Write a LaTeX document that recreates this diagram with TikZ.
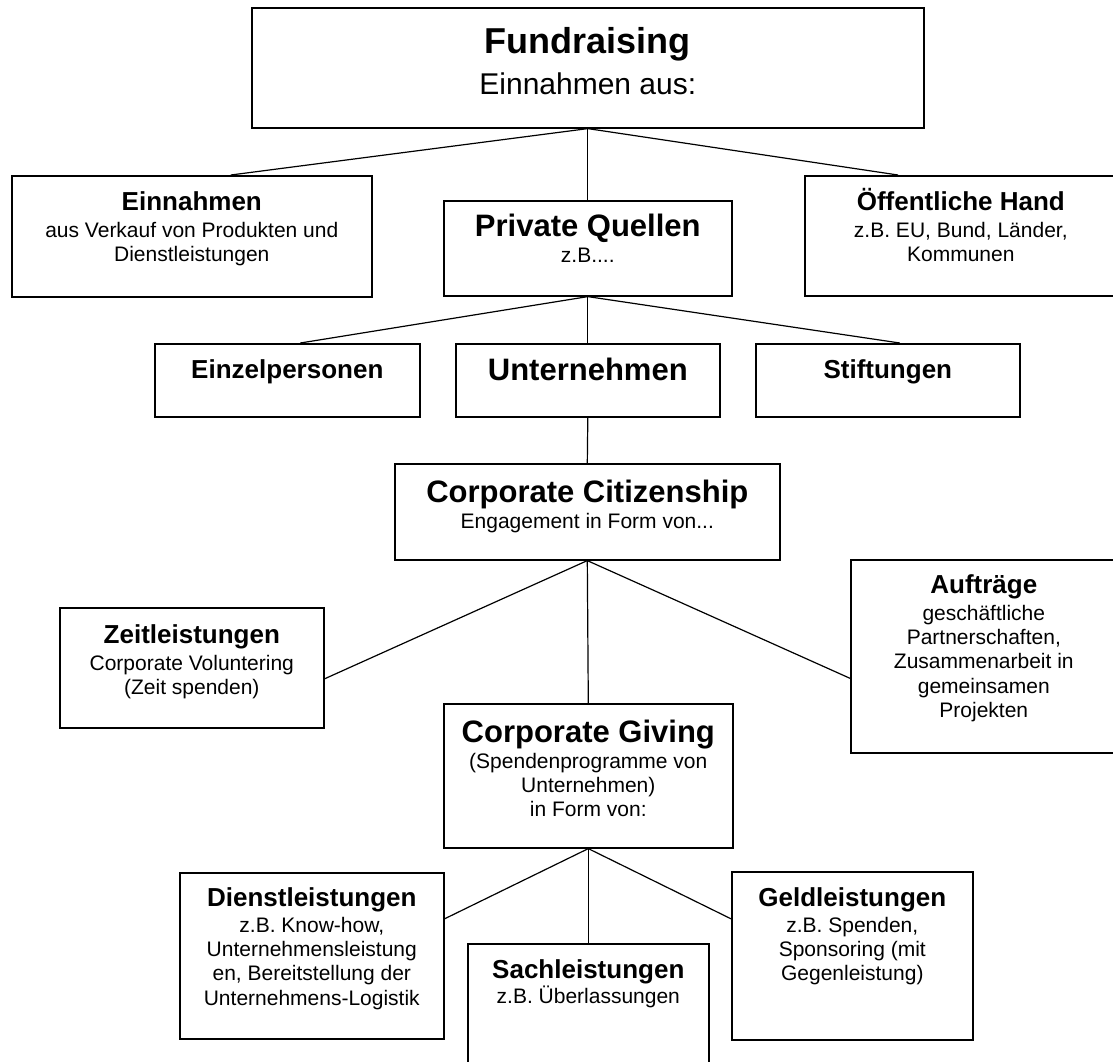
\documentclass[tikz,border=0pt]{standalone}
\usepackage{fontspec}
\setmainfont{Liberation Sans}
\newcommand\myBody{\fontsize{21}{24.3}\selectfont}
\newcommand\myTS[1]{{\fontsize{26}{26}\selectfont\bfseries\rule{0pt}{26pt}#1}}
\newcommand\myTB[1]{{\fontsize{31}{31}\selectfont\bfseries\rule{0pt}{31pt}#1}}
\tikzset{
  box/.style={draw, line width=1.6pt, rectangle, inner sep=0pt, anchor=north west},
  lbl/.style={anchor=north, inner sep=0pt, align=center, font=\myBody},
  link/.style={line width=1.2pt},
}
\begin{document}
\begin{tikzpicture}[x=1pt,y=-1pt]
\fill[white] (0,0) rectangle (1113,1061);
\useasboundingbox (0,0) rectangle (1113,1061);
% boxes
\node[box, minimum width=672pt, minimum height=120pt] (fund) at (251,7) {};
\node[box, minimum width=360pt, minimum height=121pt] (einn) at (11,175) {};
\node[box, minimum width=288pt, minimum height=95pt] (priv) at (443,200) {};
\node[box, minimum width=312pt, minimum height=120pt] (oeff) at (804,175) {};
\node[box, minimum width=265pt, minimum height=73pt] (einz) at (154,343) {};
\node[box, minimum width=264pt, minimum height=73pt] (unter) at (455,343) {};
\node[box, minimum width=264pt, minimum height=73pt] (stift) at (755,343) {};
\node[box, minimum width=385pt, minimum height=96pt] (cc) at (394,463) {};
\node[box, minimum width=264pt, minimum height=120pt] (zeit) at (59,607) {};
\node[box, minimum width=266pt, minimum height=193pt] (auf) at (850,559) {};
\node[box, minimum width=289pt, minimum height=144pt] (cg) at (443,703) {};
\node[box, minimum width=264pt, minimum height=166pt] (dien) at (179,872) {};
\node[box, minimum width=241pt, minimum height=130pt] (sach) at (467,943) {};
\node[box, minimum width=241pt, minimum height=168pt] (geld) at (731,871) {};
% texts
\node[lbl, font=\fontsize{30}{34.5}\selectfont] (fundT) at ([yshift=-10pt]fund.north)
  {{\fontsize{36}{36}\selectfont\bfseries\rule{0pt}{36pt}Fundraising}\\[6.5pt] Einnahmen aus:};
\node[lbl] (einnT) at ([yshift=-9pt]einn.north)
  {\myTS{Einnahmen}\\[2.7pt] aus Verkauf von Produkten und\\ Dienstleistungen};
\node[lbl] (privT) at ([yshift=-5pt]priv.north)
  {\myTB{Private Quellen}\\[1.7pt] z.B....};
\node[lbl] (oeffT) at ([yshift=-9pt]oeff.north)
  {\myTS{Öffentliche Hand}\\[2.7pt] z.B. EU, Bund, Länder,\\ Kommunen};
\node[lbl] (einzT) at ([yshift=-9pt]einz.north) {\myTS{Einzelpersonen}};
\node[lbl] (unterT) at ([yshift=-6pt]unter.north) {\myTB{Unternehmen}};
\node[lbl] (stiftT) at ([yshift=-9pt]stift.north) {\myTS{Stiftungen}};
\node[lbl] (ccT) at ([yshift=-8pt]cc.north)
  {\myTB{Corporate Citizenship}\\[1.7pt] Engagement in Form von...};
\node[lbl] (zeitT) at ([yshift=-10pt]zeit.north)
  {\myTS{Zeitleistungen}\\[2.7pt] Corporate Voluntering\\ (Zeit spenden)};
\node[lbl] (aufT) at ([yshift=-8pt]auf.north)
  {\myTS{Aufträge}\\[2.7pt] geschäftliche\\ Partnerschaften,\\ Zusammenarbeit in\\ gemeinsamen\\ Projekten};
\node[lbl] (cgT) at ([yshift=-8pt]cg.north)
  {\myTB{Corporate Giving}\\[1.7pt] (Spendenprogramme von\\ Unternehmen)\\ in Form von:};
\node[lbl] (dienT) at ([yshift=-8pt]dien.north)
  {\myTS{Dienstleistungen}\\[1.7pt] z.B. Know-how,\\ Unternehmensleistung\\ en, Bereitstellung der\\ Unternehmens-Logistik};
\node[lbl] (sachT) at ([yshift=-9pt]sach.north)
  {\myTS{Sachleistungen}\\[0.7pt] z.B. Überlassungen};
\node[lbl] (geldT) at ([yshift=-9pt]geld.north)
  {\myTS{Geldleistungen}\\[1.7pt] z.B. Spenden,\\ Sponsoring (mit\\ Gegenleistung)};
% connectors
\draw[link] (fund.south) -- ([xshift=39pt]einn.north);
\draw[link] (fund.south) -- (priv.north);
\draw[link] (fund.south) -- ([xshift=94pt]oeff.north west);
\draw[link] (priv.south) -- ([xshift=13pt]einz.north);
\draw[link] (priv.south) -- (unter.north);
\draw[link] (priv.south) -- ([xshift=12pt]stift.north);
\draw[link] (unter.south) -- (cc.north);
\draw[link] (cc.south) -- ([yshift=-11pt]zeit.east);
\draw[link] (cc.south) -- (cg.north);
\draw[link] (cc.south) -- ([yshift=-22pt]auf.west);
\draw[link] (cg.south) -- ([yshift=37pt]dien.east);
\draw[link] (cg.south) -- (sach.north);
\draw[link] (cg.south) -- ([yshift=37pt]geld.west);
\end{tikzpicture}
\end{document}
